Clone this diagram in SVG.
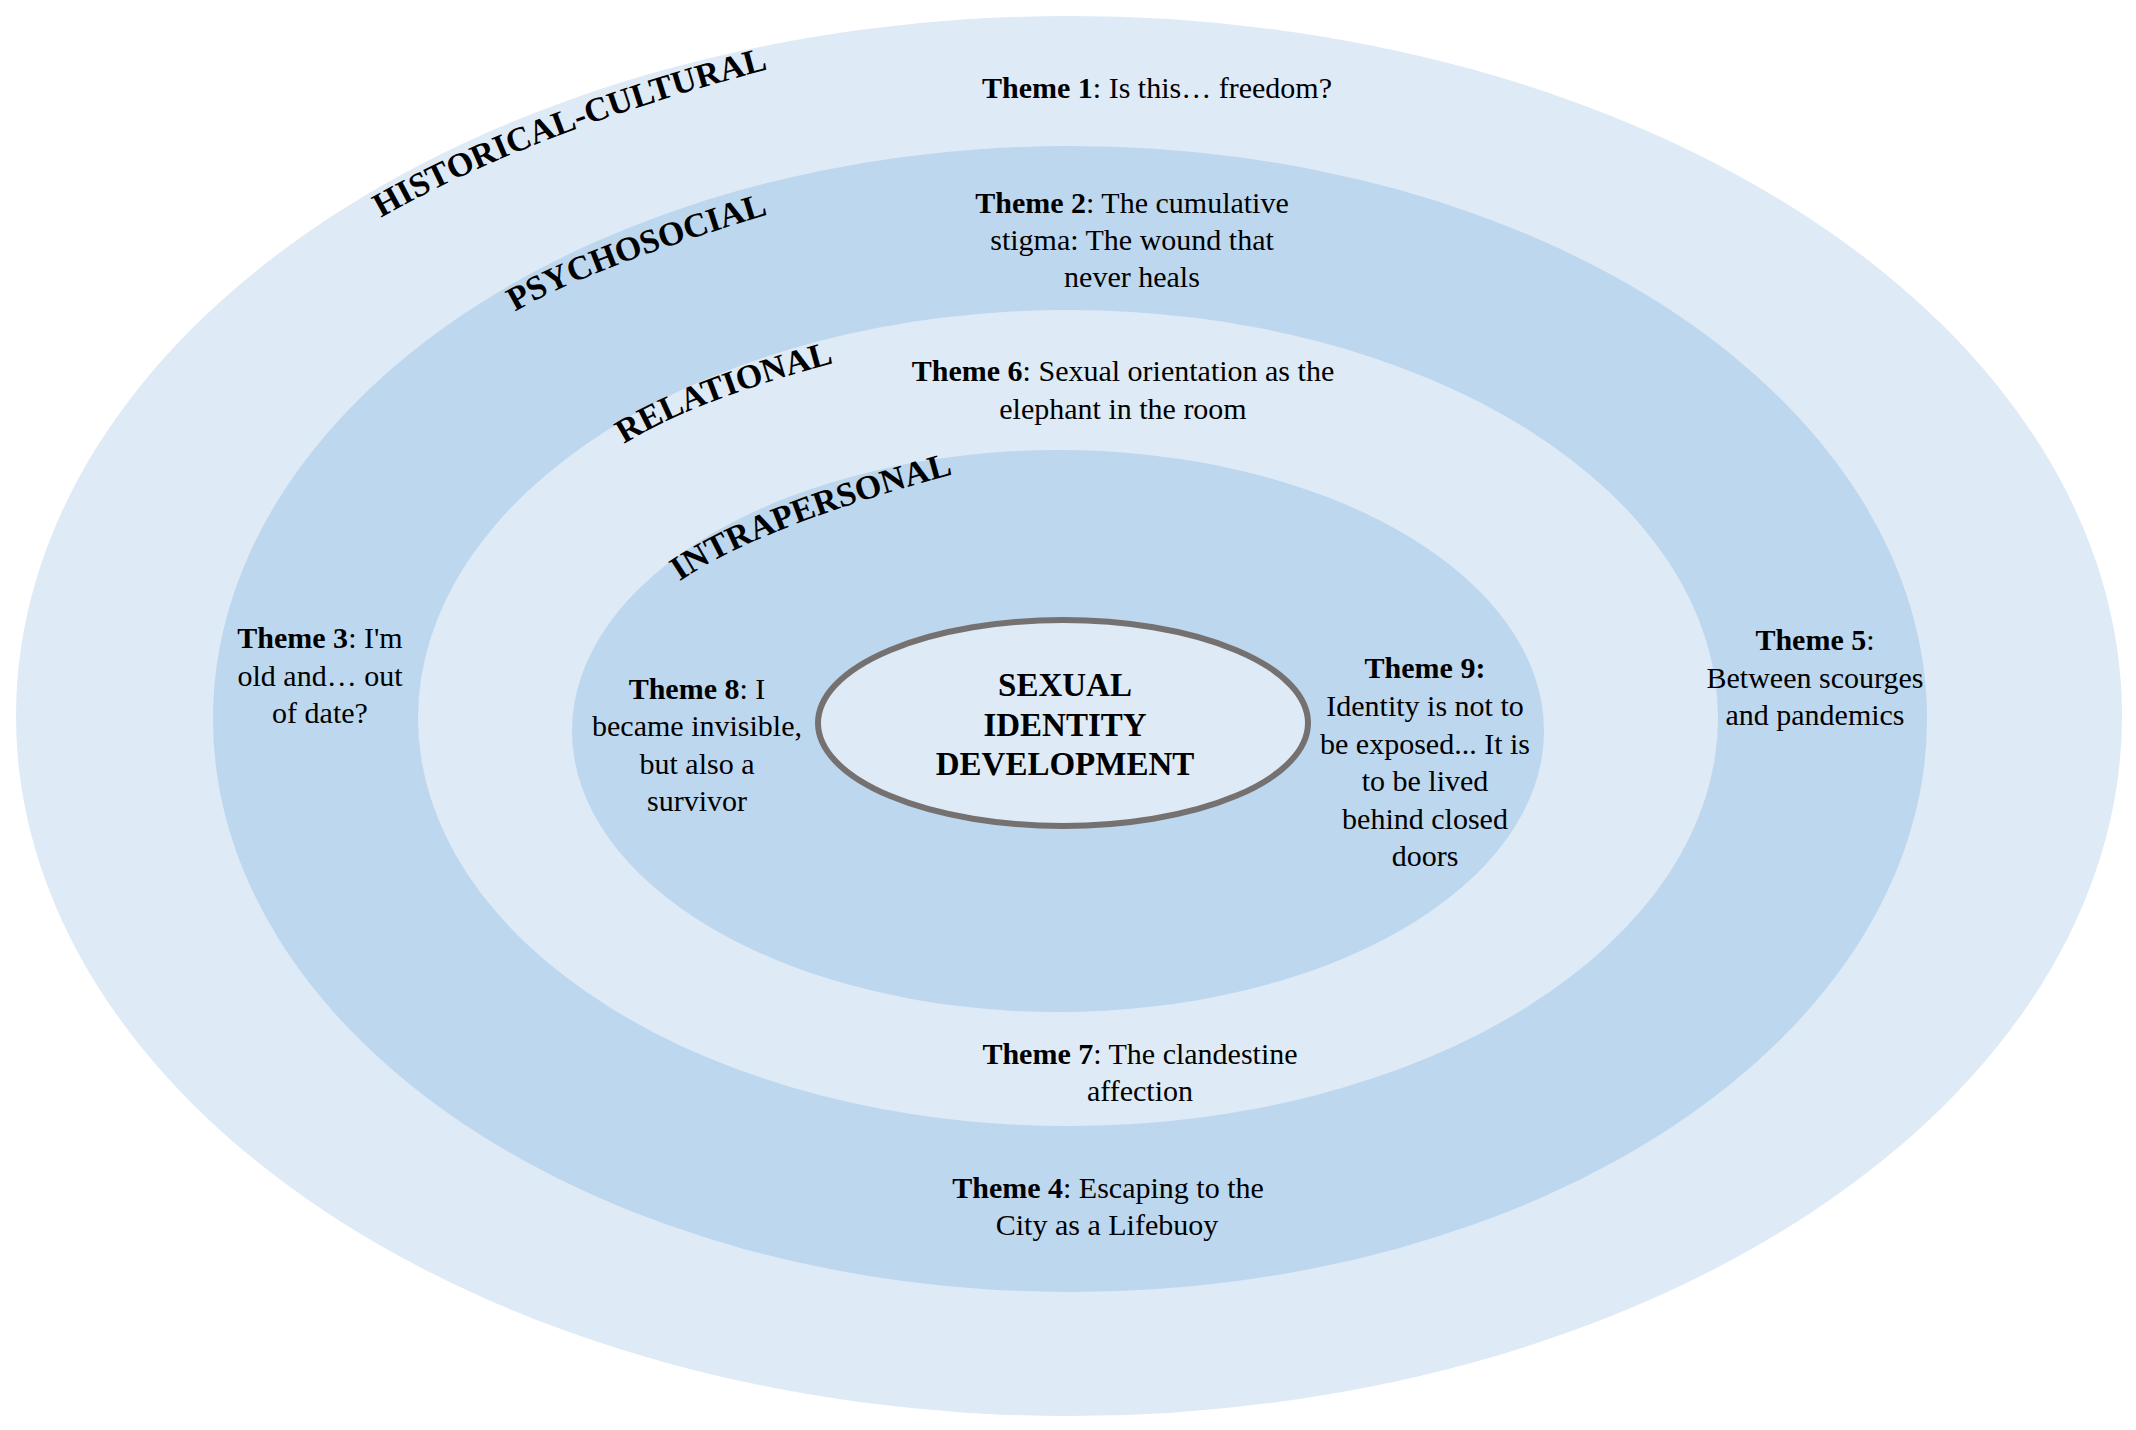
<svg xmlns="http://www.w3.org/2000/svg" width="2136" height="1430" viewBox="0 0 2136 1430">
<style>
.t{font-family:"Liberation Serif","Times New Roman",serif;font-size:30px;fill:#000;text-anchor:middle}
.b{font-weight:bold}
.c{font-family:"Liberation Serif","Times New Roman",serif;font-size:33px;font-weight:bold;fill:#000;text-anchor:middle}
.arc{font-family:"Liberation Serif","Times New Roman",serif;font-size:34px;font-weight:bold;fill:#000}
.light{fill:#DEEAF6}
.dark{fill:#BDD7EE}
</style>
<defs>
<path id="pHist" d="M384,216 Q535,131 765,70"/>
<path id="pPsy" d="M508,316 Q577,272 776,212"/>
<path id="pRel" d="M618,448 Q687,402 841,361"/>
<path id="pIntra" d="M673,586 Q752,528 961,472"/>
</defs>
<rect width="2136" height="1430" fill="#FFFFFF"/>
<g id="ring-historical-cultural">
<ellipse class="light" cx="1069" cy="716" rx="1053" ry="700"/>
<text class="arc"><textPath href="#pHist" startOffset="50%" text-anchor="middle">HISTORICAL-CULTURAL</textPath></text>
</g>
<g id="ring-psychosocial">
<ellipse class="dark" cx="1070" cy="719" rx="857" ry="573"/>
<text class="arc"><textPath href="#pPsy" startOffset="50%" text-anchor="middle">PSYCHOSOCIAL</textPath></text>
</g>
<g id="ring-relational">
<ellipse class="light" cx="1068" cy="718" rx="650" ry="408"/>
<text class="arc"><textPath href="#pRel" startOffset="50%" text-anchor="middle">RELATIONAL</textPath></text>
</g>
<g id="ring-intrapersonal">
<ellipse class="dark" cx="1058" cy="731" rx="486" ry="281"/>
<text class="arc"><textPath href="#pIntra" startOffset="50%" text-anchor="middle">INTRAPERSONAL</textPath></text>
</g>
<g id="center-sexual-identity">
<ellipse cx="1063" cy="723" rx="245" ry="103" fill="#DEEAF6" stroke="#767171" stroke-width="6"/>
<text class="c" x="1065" y="696">SEXUAL</text>
<text class="c" x="1065" y="736">IDENTITY</text>
<text class="c" x="1065" y="775">DEVELOPMENT</text>
</g>
<g id="theme1">
<text class="t" x="1157" y="98"><tspan class="b">Theme 1</tspan>: Is this… freedom?</text>
</g>
<g id="theme2">
<text class="t" x="1132" y="213"><tspan class="b">Theme 2</tspan>: The cumulative</text>
<text class="t" x="1132" y="250">stigma: The wound that</text>
<text class="t" x="1132" y="287">never heals</text>
</g>
<g id="theme3">
<text class="t" x="320" y="648"><tspan class="b">Theme 3</tspan>: I'm</text>
<text class="t" x="320" y="686">old and… out</text>
<text class="t" x="320" y="723">of date?</text>
</g>
<g id="theme4">
<text class="t" x="1108" y="1198"><tspan class="b">Theme 4</tspan>: Escaping to the</text>
<text class="t" x="1107" y="1235">City as a Lifebuoy</text>
</g>
<g id="theme5">
<text class="t" x="1815" y="650"><tspan class="b">Theme 5</tspan>:</text>
<text class="t" x="1815" y="688">Between scourges</text>
<text class="t" x="1815" y="725">and pandemics</text>
</g>
<g id="theme6">
<text class="t" x="1123" y="381"><tspan class="b">Theme 6</tspan>: Sexual orientation as the</text>
<text class="t" x="1123" y="419">elephant in the room</text>
</g>
<g id="theme7">
<text class="t" x="1140" y="1064"><tspan class="b">Theme 7</tspan>: The clandestine</text>
<text class="t" x="1140" y="1101">affection</text>
</g>
<g id="theme8">
<text class="t" x="697" y="699"><tspan class="b">Theme 8</tspan>: I</text>
<text class="t" x="697" y="736">became invisible,</text>
<text class="t" x="697" y="774">but also a</text>
<text class="t" x="697" y="811">survivor</text>
</g>
<g id="theme9">
<text class="t b" x="1425" y="678">Theme 9:</text>
<text class="t" x="1425" y="716">Identity is not to</text>
<text class="t" x="1425" y="754">be exposed... It is</text>
<text class="t" x="1425" y="791">to be lived</text>
<text class="t" x="1425" y="829">behind closed</text>
<text class="t" x="1425" y="866">doors</text>
</g>
<g id="connectors"/>
</svg>
